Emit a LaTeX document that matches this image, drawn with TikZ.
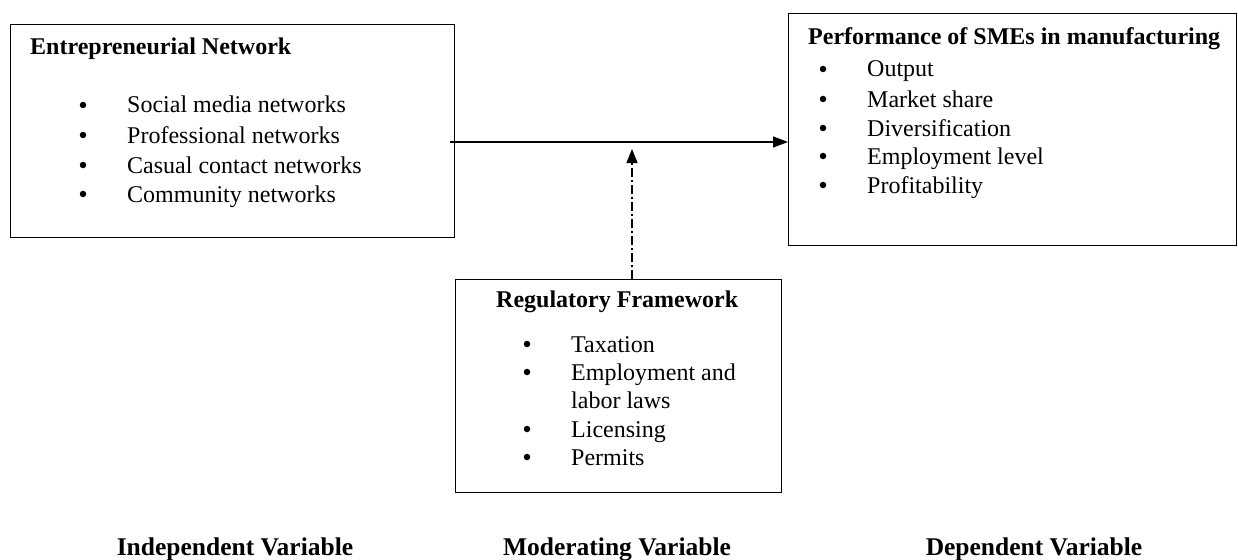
\documentclass[tikz,border=0pt]{standalone}
\usepackage{fontspec}
\setmainfont{Liberation Serif}
\usetikzlibrary{arrows.meta}
\begin{document}
\begin{tikzpicture}[x=1pt,y=-1pt,
  box/.style={draw, line width=1.4pt, inner sep=0pt, anchor=north west},
  head/.style={anchor=base west, inner sep=0pt, font=\fontsize{24}{29}\selectfont\bfseries},
  item/.style={anchor=base west, inner sep=0pt, font=\fontsize{24}{29}\selectfont},
  bul/.style={circle, fill, inner sep=0pt, minimum size=6.5pt, yshift=8pt},
  foot/.style={anchor=base, inner sep=0pt, font=\fontsize{25.5}{30}\selectfont\bfseries},
  conn/.style={line width=1.2pt, -{Triangle[length=15pt,width=11pt]}},
  modconn/.style={line width=1.2pt, dash pattern=on 9pt off 3pt on 2pt off 3pt, -{Triangle[length=14pt,width=11pt]}}
]
\useasboundingbox (0,0) rectangle (1238,559);

% boxes
\node[box, minimum width=444pt, minimum height=213pt] (ind) at (10,24) {};
\node[box, minimum width=448pt, minimum height=232pt] (dep) at (788,13) {};
\node[box, minimum width=326pt, minimum height=213pt] (mod) at (455,279) {};

% independent variable box text
\node[head] (indh) at (30,55) {Entrepreneurial Network};
\node[bul] (ib1) at (83,113) {};
\node[item] (it1) at (127,113) {Social media networks};
\node[bul] (ib2) at (83,143) {};
\node[item] (it2) at (127,143) {Professional networks};
\node[bul] (ib3) at (83,173) {};
\node[item] (it3) at (127,173) {Casual contact networks};
\node[bul] (ib4) at (83,202) {};
\node[item] (it4) at (127,202) {Community networks};

% dependent variable box text
\node[head] (deph) at (808,45) {Performance of SMEs in manufacturing};
\node[bul] (db1) at (823,77) {};
\node[item] (dt1) at (867,77) {Output};
\node[bul] (db2) at (823,107) {};
\node[item] (dt2) at (867,107) {Market share};
\node[bul] (db3) at (823,136) {};
\node[item] (dt3) at (867,136) {Diversification};
\node[bul] (db4) at (823,164) {};
\node[item] (dt4) at (867,164) {Employment level};
\node[bul] (db5) at (823,193) {};
\node[item] (dt5) at (867,193) {Profitability};

% moderating variable box text
\node[head] (modh) at (496,307) {Regulatory Framework};
\node[bul] (mb1) at (527,352) {};
\node[item] (mt1) at (571,352) {Taxation};
\node[bul] (mb2) at (527,380) {};
\node[item] (mt2) at (571,380) {Employment and};
\node[item] (mt2b) at (571,408) {labor laws};
\node[bul] (mb3) at (527,437) {};
\node[item] (mt3) at (571,437) {Licensing};
\node[bul] (mb4) at (527,465) {};
\node[item] (mt4) at (571,465) {Permits};

% connectors
\coordinate (start) at (450,142);
\coordinate (mid) at (632,149);
\draw[conn] (start) -- (start -| dep.west);
\draw[modconn] (mod.north -| mid) -- (mid);

% footer labels
\node[foot] (f1) at (235,555) {Independent Variable};
\node[foot] (f2) at (617,555) {Moderating Variable};
\node[foot] (f3) at (1034,555) {Dependent Variable};
\end{tikzpicture}
\end{document}
